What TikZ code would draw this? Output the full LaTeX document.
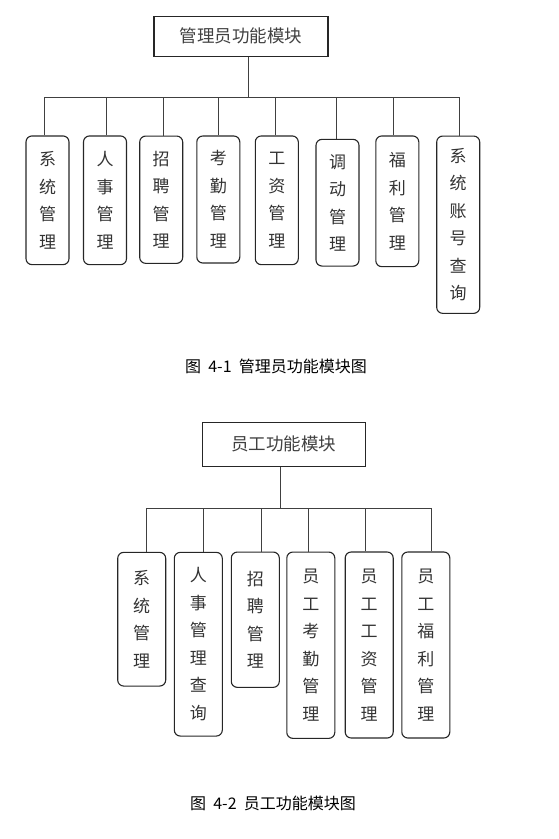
\documentclass[tikz,border=0pt]{standalone}
\usepackage{fontspec}
\newfontfamily\cjk{Noto Sans CJK SC}
\begin{document}
\begin{tikzpicture}[x=1pt,y=-1pt,
  topbox/.style={draw=black!85, line width=1.1pt, inner sep=0pt,
    font=\cjk\fontsize{17.5}{20}\selectfont, text=black!75},
  mod/.style={draw=black!85, line width=1.1pt, rounded corners=6pt, align=center,
    inner sep=0pt, font=\cjk\fontsize{17}{27.5}\selectfont, text=black!80},
  modA/.style={mod, minimum width=43pt},
  modB/.style={mod, minimum width=48pt},
  link/.style={draw=black!75, line width=0.9pt},
  captext/.style={font=\cjk\fontsize{16}{18}\selectfont, text=black}]
\useasboundingbox (0,0) rectangle (559,839);

% ---------- Figure 4-1 ----------
\node[topbox, minimum width=174pt, minimum height=40pt] (t1) at (241,36.2) {管理员功能模块};
\coordinate (j1) at (248.7,97);

\node[modA, minimum height=128.7pt] (b1) at (47.5,200.3) {系\\统\\管\\理};
\node[modA, minimum height=128.7pt] (b2) at (105,200.3) {人\\事\\管\\理};
\node[modA, minimum height=127.3pt] (b3) at (161.2,199.7) {招\\聘\\管\\理};
\node[modA, minimum height=127pt] (b4) at (218.3,199.5) {考\\勤\\管\\理};
\node[modA, minimum height=128.7pt] (b5) at (276.8,200.3) {工\\资\\管\\理};
\node[modA, minimum height=126.7pt] (b6) at (337.5,202.7) {调\\动\\管\\理};
\node[modA, minimum height=130.7pt] (b7) at (397.3,201.3) {福\\利\\管\\理};
\node[modA, minimum height=177.3pt] (b8) at (458.2,224.7) {系\\统\\账\\号\\查\\询};

\draw[link] (t1.south -| j1) -- (j1);
\draw[link] ([xshift=-3.2pt]b1.north) |- (j1);
\draw[link] ([xshift=1.7pt]b2.north) |- (j1);
\draw[link] ([xshift=2.5pt]b3.north) |- (j1);
\draw[link] (b4.north) |- (j1);
\draw[link] ([xshift=-1.5pt]b5.north) |- (j1);
\draw[link] ([xshift=-1.2pt]b6.north) |- (j1);
\draw[link] ([xshift=-4pt]b7.north) |- (j1);
\draw[link] ([xshift=1.1pt]b8.north) |- (j1);

\node[captext] (cap1) at (276,366) {图\hspace{0.45em}4-1\hspace{0.45em}管理员功能模块图};

% ---------- Figure 4-2 ----------
\node[topbox, minimum width=163pt, minimum height=43.7pt] (t2) at (283.8,444.2) {员工功能模块};
\coordinate (j2) at (280.3,508.3);

\node[modB, minimum height=133.7pt] (c1) at (141.7,619.2) {系\\统\\管\\理};
\node[modB, minimum height=183.7pt] (c2) at (198.3,644.2) {人\\事\\管\\理\\查\\询};
\node[modB, minimum height=135.3pt] (c3) at (255.3,619.7) {招\\聘\\管\\理};
\node[modB, minimum height=186.3pt] (c4) at (310.8,645.2) {员\\工\\考\\勤\\管\\理};
\node[modB, minimum height=186pt] (c5) at (369.2,645) {员\\工\\工\\资\\管\\理};
\node[modB, minimum height=186pt] (c6) at (425.8,645) {员\\工\\福\\利\\管\\理};

\draw[link] (t2.south -| j2) -- (j2);
\draw[link] ([xshift=5pt]c1.north) |- (j2);
\draw[link] ([xshift=5.4pt]c2.north) |- (j2);
\draw[link] ([xshift=5.7pt]c3.north) |- (j2);
\draw[link] ([xshift=-2.5pt]c4.north) |- (j2);
\draw[link] ([xshift=-4.2pt]c5.north) |- (j2);
\draw[link] ([xshift=5.2pt]c6.north) |- (j2);

\node[captext] (cap2) at (273,803.3) {图\hspace{0.45em}4-2\hspace{0.45em}员工功能模块图};
\end{tikzpicture}
\end{document}
